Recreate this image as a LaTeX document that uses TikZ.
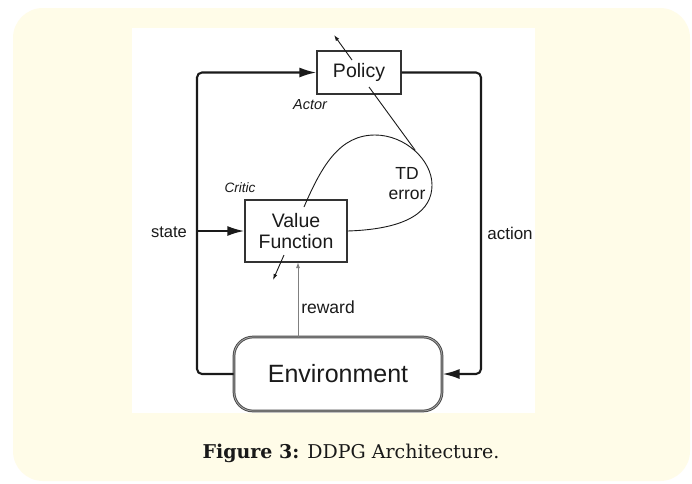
\documentclass[tikz,border=0pt]{standalone}
\usepackage{fontspec}
\setmainfont{Liberation Sans}
\newfontfamily\diagfont{Liberation Sans}
\newfontfamily\capfont{DejaVu Serif}
\usetikzlibrary{arrows.meta}
\definecolor{cream}{HTML}{FFFCE8}
\definecolor{ink}{HTML}{1A1A1A}
\definecolor{boxline}{HTML}{333333}
\tikzset{
  txt/.style={inner sep=0pt, text=ink, font=\diagfont},
  boxnode/.style={draw=boxline, line width=1.3pt, fill=white, inner sep=0pt, text=ink, font=\diagfont},
  loopline/.style={draw=ink, line width=2.1pt, rounded corners=5pt},
  bigarrow/.style={-{Latex[length=17pt,width=10pt]}},
  thinline/.style={draw=ink, line width=0.9pt},
  smallarrow/.style={-{Latex[length=6pt,width=4pt]}},
}
\begin{document}
\begin{tikzpicture}[x=1pt,y=-1pt]
\useasboundingbox (0,0) rectangle (692,483);
\fill[white] (0,0) rectangle (692,483);
\fill[cream, rounded corners=30pt] (13,8) rectangle (690,481);
\fill[white] (132,28) rectangle (535,413);

% boxes
\node[boxnode, minimum width=84pt, minimum height=43pt, font=\diagfont\fontsize{19.5}{21}\selectfont] (policy) at (359,72.5) {Policy};
\node[boxnode, minimum width=102pt, minimum height=62pt, align=center, font=\diagfont\fontsize{19.5}{21}\selectfont] (value) at (296,231) {Value\\Function};
\node[draw=black!70, double=black!30, double distance=0.7pt, line width=1pt, rounded corners=19pt, fill=white,
      minimum width=208pt, minimum height=74pt, inner sep=0pt, text=ink, font=\diagfont\fontsize{25}{28}\selectfont] (env) at (338,374) {Environment};

% labels
\node[txt, font=\diagfont\itshape\fontsize{14.5}{16}\selectfont] (actor) at (310,105) {Actor};
\node[txt, font=\diagfont\itshape\fontsize{13.6}{15}\selectfont] (critic) at (240,188) {Critic};
\node[txt, align=center, font=\diagfont\fontsize{17.5}{20}\selectfont] (td) at (407,184) {TD\\error};
\node[txt, font=\diagfont\fontsize{16.5}{18}\selectfont] (state) at (169,232) {state};
\node[txt, font=\diagfont\fontsize{17}{19}\selectfont] (action) at (510,233) {action};
\node[txt, font=\diagfont\fontsize{17.5}{19}\selectfont] (reward) at (328,307) {reward};

% coordinates
\coordinate (lt) at (197,72.5);
\coordinate (sj) at (197,231);
\coordinate (rt) at (481,72.5);
\coordinate (rw) at (298,337);
\coordinate (rwt) at (298,262);
\coordinate (pa1) at (352,60);
\coordinate (pa2) at (334,35);
\coordinate (va1) at (284,255);
\coordinate (va2) at (273,280);
\coordinate (pt1) at (369,87);
\coordinate (pt2) at (415,150);
\coordinate (c0) at (304,207);
\coordinate (c1) at (375,135);
\coordinate (c2) at (432,185);

% loops
\draw[loopline, bigarrow] (env.west) -| (lt) -- (policy.west);
\draw[loopline, bigarrow] (policy.east) -- (rt) |- (env.east);
\draw[draw=ink, line width=2.1pt, bigarrow] (sj) -- (value.west);

% reward
\draw[draw=black!50, line width=1pt, smallarrow] (rw) -- (rwt);

% small arrows
\draw[thinline, smallarrow] (pa1) -- (pa2);
\draw[thinline, smallarrow] (va1) -- (va2);
\draw[thinline] (pt1) -- (pt2);

% TD error curve
\draw[thinline] (c0) .. controls (322,165) and (340,135) .. (c1)
  .. controls (405,135) and (432,160) .. (c2)
  .. controls (432,210) and (410,229) .. (value.east);

% caption
\node[inner sep=0pt, text=black!90, font=\capfont\fontsize{19}{22}\selectfont] (cap) at (351,453) {\textbf{Figure 3:} DDPG Architecture.};
\end{tikzpicture}
\end{document}
